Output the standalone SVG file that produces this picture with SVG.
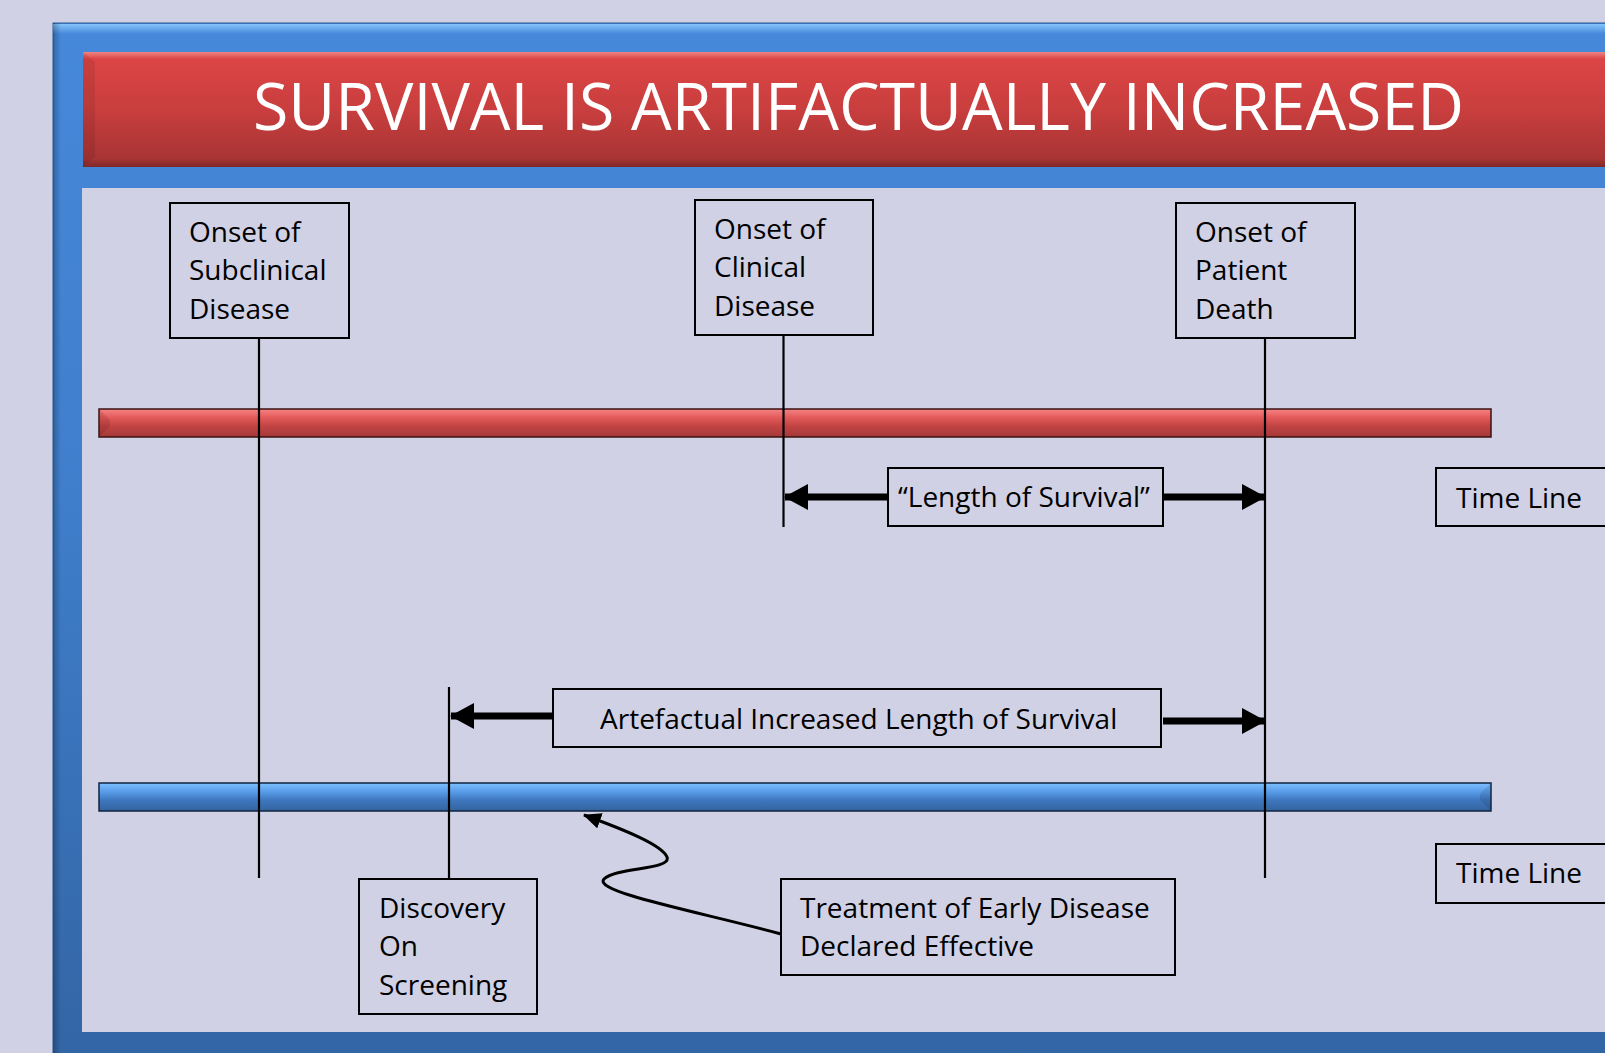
<svg xmlns="http://www.w3.org/2000/svg" width="1605" height="1053" viewBox="0 0 1605 1053">
<defs>
<linearGradient id="frameG" x1="0" y1="0" x2="0" y2="1">
<stop offset="0" stop-color="#4688DA"/>
<stop offset="0.45" stop-color="#3F7ECB"/>
<stop offset="1" stop-color="#3264A3"/>
</linearGradient>
<linearGradient id="titleG" x1="0" y1="0" x2="0" y2="1">
<stop offset="0" stop-color="#F08383"/>
<stop offset="0.06" stop-color="#DC4545"/>
<stop offset="0.5" stop-color="#C93E3E"/>
<stop offset="0.93" stop-color="#A83434"/>
<stop offset="1" stop-color="#7E2828"/>
</linearGradient>
<linearGradient id="redBarG" x1="0" y1="0" x2="0" y2="1">
<stop offset="0" stop-color="#F58484"/>
<stop offset="0.3" stop-color="#E45A5A"/>
<stop offset="0.6" stop-color="#C24444"/>
<stop offset="1" stop-color="#A53838"/>
</linearGradient>
<linearGradient id="blueBarG" x1="0" y1="0" x2="0" y2="1">
<stop offset="0" stop-color="#7EC0FF"/>
<stop offset="0.3" stop-color="#5A9EEA"/>
<stop offset="0.6" stop-color="#3F78C0"/>
<stop offset="1" stop-color="#33639E"/>
</linearGradient>
<linearGradient id="leftShade" x1="0" y1="0" x2="1" y2="0">
<stop offset="0" stop-color="#000" stop-opacity="0.25"/>
<stop offset="1" stop-color="#000" stop-opacity="0"/>
</linearGradient>
<linearGradient id="topHi" x1="0" y1="0" x2="0" y2="1">
<stop offset="0" stop-color="#8CCBFF" stop-opacity="0.9"/>
<stop offset="1" stop-color="#8CCBFF" stop-opacity="0"/>
</linearGradient>
<marker id="bigHead" viewBox="0 0 24 26" refX="23" refY="13" markerWidth="24" markerHeight="26" markerUnits="userSpaceOnUse" orient="auto">
<path d="M0,0 L24,13 L0,26 Z" fill="#000"/>
</marker>
<marker id="smallHead" viewBox="0 0 18 16" refX="17" refY="8" markerWidth="18" markerHeight="16" markerUnits="userSpaceOnUse" orient="auto">
<path d="M0,0 L18,8 L0,16 Z" fill="#000"/>
</marker>
<style>
.box{fill:none;stroke:#000;stroke-width:2}
.t{font-family:"Open Sans","Noto Sans","Liberation Sans",sans-serif;font-size:28px;fill:#000}
.title{font-family:"Open Sans","Noto Sans","Liberation Sans",sans-serif;font-size:66px;fill:#fff}
.vline{stroke:#000;stroke-width:2.2;fill:none}
.thick{stroke:#000;stroke-width:7;fill:none;marker-end:url(#bigHead)}
.thin{stroke:#000;stroke-width:3;fill:none;marker-end:url(#smallHead)}
</style>
</defs>
<rect x="0" y="0" width="1605" height="1053" fill="#D1D1E5"/>
<g id="frame">
<rect x="53" y="23" width="1600" height="1060" fill="url(#frameG)" stroke="#2D5A93" stroke-width="1"/>
<rect x="53" y="24" width="1600" height="10" fill="url(#topHi)"/>
<rect x="53" y="23" width="8" height="1040" fill="url(#leftShade)"/>
<rect x="82" y="188" width="1600" height="844" fill="#D1D1E5"/>
</g>
<g id="title-bar">
<rect x="83" y="52" width="1600" height="115" fill="url(#titleG)"/>
<path d="M83,52 L95,62 L95,157 L83,167 Z" fill="#000" fill-opacity="0.08"/>
<text class="title" x="253" y="130" textLength="1211" lengthAdjust="spacingAndGlyphs">SURVIVAL IS ARTIFACTUALLY INCREASED</text>
</g>
<g id="red-timeline">
<rect x="99" y="409" width="1392" height="28" fill="url(#redBarG)" stroke="#3A1212" stroke-width="1.5"/>
<path d="M100,410 L110,420 L110,426 L100,436 Z" fill="#000" fill-opacity="0.1"/>
</g>
<g id="blue-timeline">
<rect x="99" y="783" width="1392" height="28" fill="url(#blueBarG)" stroke="#0F2440" stroke-width="1.5"/>
<path d="M1490,784 L1480,794 L1480,800 L1490,810 Z" fill="#000" fill-opacity="0.1"/>
</g>
<g id="connectors">
<line class="vline" x1="259" y1="338" x2="259" y2="878"/>
<line class="vline" x1="783.5" y1="335" x2="783.5" y2="527"/>
<line class="vline" x1="1265" y1="338" x2="1265" y2="878"/>
<line class="vline" x1="449" y1="687" x2="449" y2="879"/>
<line class="thick" x1="888" y1="497" x2="785" y2="497"/>
<line class="thick" x1="1164" y1="497" x2="1265" y2="497"/>
<line class="thick" x1="553" y1="716" x2="451" y2="716"/>
<line class="thick" x1="1163" y1="721" x2="1265" y2="721"/>
<path class="thin" d="M781,934 C700,912 592,892 604,879 C616,867 672,870 667,857 C662,845 625,830 584,815"/>
</g>
<g id="node-subclinical">
<rect class="box" x="170" y="203" width="179" height="135"/>
<text class="t" x="189" y="242">Onset of</text>
<text class="t" x="189" y="280">Subclinical</text>
<text class="t" x="189" y="319">Disease</text>
</g>
<g id="node-clinical">
<rect class="box" x="695" y="200" width="178" height="135"/>
<text class="t" x="714" y="239">Onset of</text>
<text class="t" x="714" y="277">Clinical</text>
<text class="t" x="714" y="316">Disease</text>
</g>
<g id="node-death">
<rect class="box" x="1176" y="203" width="179" height="135"/>
<text class="t" x="1195" y="242">Onset of</text>
<text class="t" x="1195" y="280">Patient</text>
<text class="t" x="1195" y="319">Death</text>
</g>
<g id="node-length">
<rect class="box" x="888" y="468" width="275" height="58"/>
<text class="t" x="898" y="507">“Length of Survival”</text>
</g>
<g id="node-timeline-1">
<rect class="box" x="1436" y="468" width="200" height="58"/>
<text class="t" x="1456" y="508">Time Line</text>
</g>
<g id="node-artefactual">
<rect class="box" x="553" y="689" width="608" height="58"/>
<text class="t" x="600" y="729">Artefactual Increased Length of Survival</text>
</g>
<g id="node-timeline-2">
<rect class="box" x="1436" y="844" width="200" height="59"/>
<text class="t" x="1456" y="883">Time Line</text>
</g>
<g id="node-discovery">
<rect class="box" x="359" y="879" width="178" height="135"/>
<text class="t" x="379" y="918">Discovery</text>
<text class="t" x="379" y="956">On</text>
<text class="t" x="379" y="995">Screening</text>
</g>
<g id="node-treatment">
<rect class="box" x="781" y="879" width="394" height="96"/>
<text class="t" x="800" y="918">Treatment of Early Disease</text>
<text class="t" x="800" y="956">Declared Effective</text>
</g>
</svg>
